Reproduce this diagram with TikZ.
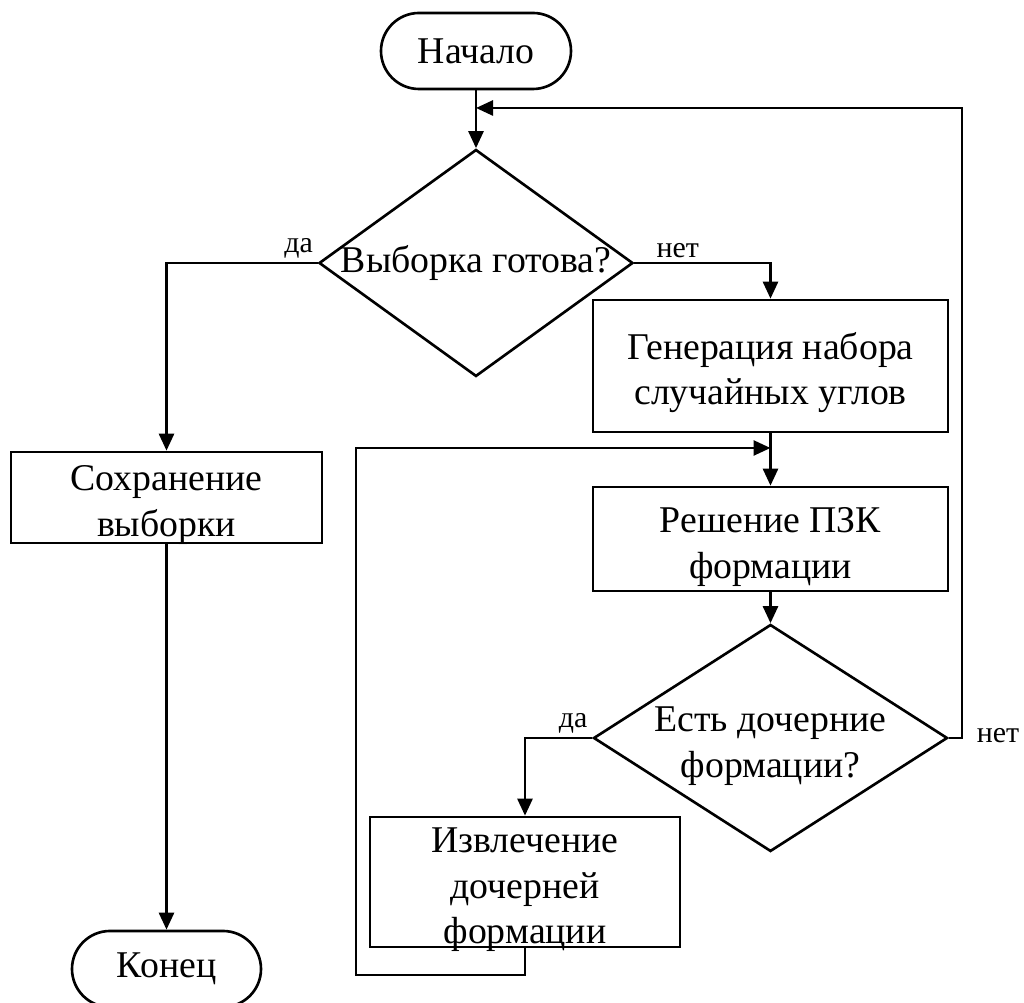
\documentclass[tikz,border=0pt]{standalone}
\usepackage{fontspec}
\setmainfont{Liberation Serif}
\usetikzlibrary{shapes.geometric,arrows.meta}
\newcommand{\topstr}{\rule{0pt}{23pt}}

\begin{document}
\begin{tikzpicture}[
	line width=1.5pt,
	>={Triangle[length=0.34cm,width=0.3cm]},
	font=\fontsize{21.5}{26}\selectfont,
	term/.style={draw, rounded corners=0.76cm, minimum width=3.8cm, minimum height=1.52cm, inner sep=0pt},
	txt/.style={align=center, inner sep=0pt},
	blok/.style={draw, rectangle, txt, inner ysep=-10pt},
	vopros/.style={draw, diamond, inner sep=0pt},
	lbl/.style={font=\fontsize{17}{20}\selectfont, inner sep=2pt}
]
	\useasboundingbox (0, 0) rectangle (20.48, 20.06);
	% blocks
	\node[term] (nach) at (9.52, 19.04) {Начало};
	\node[vopros, minimum width=6.28cm, minimum height=4.54cm] (vyb) at (9.52, 14.8) {};
	\node (vybt) at (vyb) {Выборка готова?};
	\node[blok, minimum width=7.1cm, minimum height=2.64cm] (gen) at (15.41, 12.74) {\topstr Генерация набора\\случайных углов};
	\node[blok, minimum width=7.1cm, minimum height=2.08cm] (resh) at (15.41, 9.28) {\topstr Решение ПЗК\\формации};
	\node[vopros, minimum width=7.08cm, minimum height=4.54cm] (est) at (15.41, 5.3) {};
	\node[txt] (estt) at (est) {\topstr Есть дочерние\\формации?};
	\node[blok, minimum width=6.2cm, minimum height=2.6cm] (izvl) at (10.5, 2.42) {\topstr Извлечение\\дочерней\\формации};
	\node[blok, minimum width=6.22cm, minimum height=1.82cm] (sokhr) at (3.33, 10.11) {\topstr Сохранение\\выборки};
	\node[term, minimum width=3.78cm] (kon) at (3.33, 0.68) {Конец};
	\coordinate (jn) at (9.52, 17.9);
	\coordinate (mrg) at (15.41, 11.1);
	\coordinate (rt) at (19.24, 5.3);
	% connectors
	\draw[->] (nach) -- (vyb.north);
	\draw[->] (vyb.west) -| (sokhr.north);
	\draw[->] (vyb.east) -| (gen.north);
	\draw[->] (gen) -- (resh);
	\draw[->] (resh) -- (est.north);
	\draw[->] (est.west) -| (izvl.north);
	\draw[->] (est.east) -- (rt) |- (jn);
	\draw[->] (izvl.south) |- (7.12, 0.56) |- (mrg);
	\draw[->] (sokhr) -- (kon);
	% labels
	\node[lbl, above left] (da1) at (vyb.west) {да};
	\node[lbl, above right, xshift=0.35cm] (net1) at (vyb.east) {нет};
	\node[lbl, above left] (da2) at (est.west) {да};
	\node[lbl, right, xshift=0.2cm, yshift=0.05cm] (net2) at (rt) {нет};
\end{tikzpicture}
\end{document}
